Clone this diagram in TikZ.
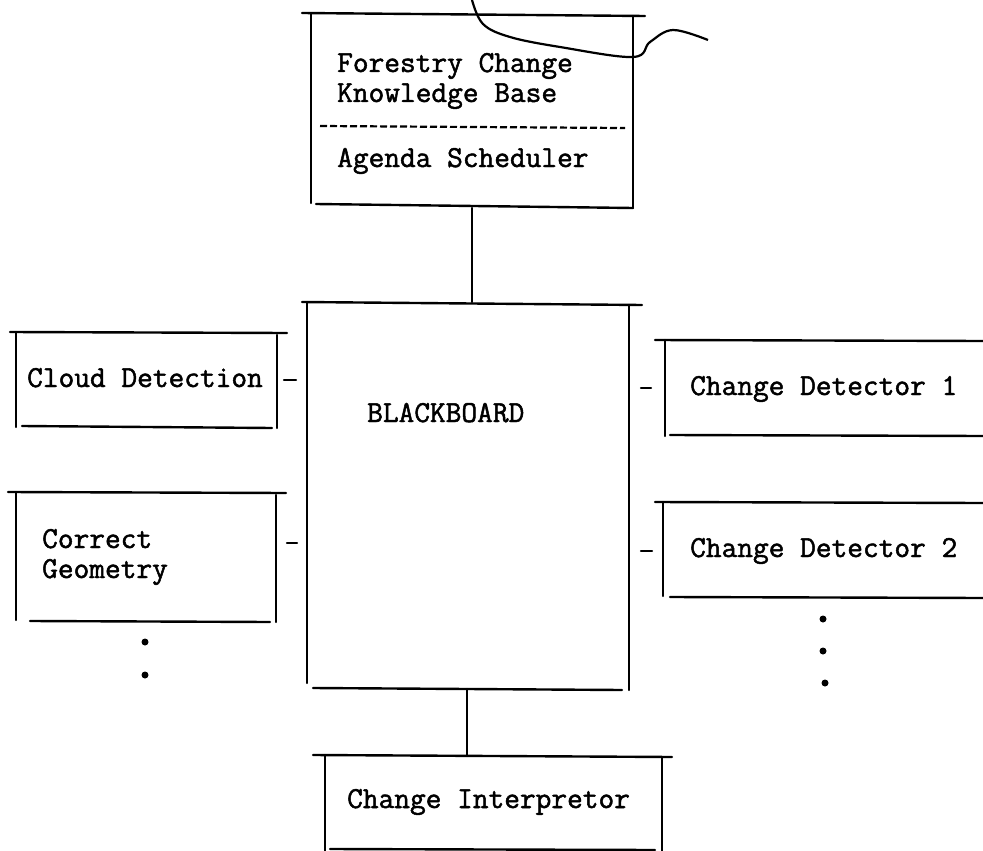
\documentclass[tikz,border=0pt]{standalone}
\usepackage{fontspec}
\newfontfamily\typewriter[FakeBold=1.6]{Latin Modern Mono}
\usetikzlibrary{calc}
\begin{document}
\begin{tikzpicture}[x=1pt,y=-1pt,
  rule/.style={line width=2.4pt,line cap=round},
  sep/.style={line width=2.2pt,dash pattern=on 7pt off 3pt},
  lbl/.style={anchor=base west,inner sep=0pt,font=\fontsize{30.5}{32}\selectfont\typewriter},
  dot/.style={fill,circle,inner sep=0pt,minimum size=7pt}]
\useasboundingbox (0,0) rectangle (983,851);

% ---- knowledge base / scheduler ----
\draw[rule] (302,13) -- (645,16);
\draw[rule] (311,14) -- (311,203);
\draw[rule] (633,16) -- (633,208);
\draw[rule] (316,204) -- (633,208);
\draw[sep] (320,126) -- (625,128);
\node[lbl] (kb1) at (337,72) {Forestry Change};
\node[lbl] (kb2) at (337,102) {Knowledge Base};
\node[lbl] (sched) at (337,167) {Agenda Scheduler};
\coordinate (kbS) at (472,208);
\draw[line width=2.2pt] plot[smooth,tension=0.6] coordinates
  {(472,0) (483,24) (510,37) (560,47) (633,57) (650,42) (673,30) (708,40)};

% ---- blackboard ----
\draw[rule] (302,302) -- (642,305);
\draw[rule] (307,302) -- (307,683);
\draw[rule] (629,305) -- (629,690);
\draw[rule] (313,688) -- (622,690);
\node[lbl] (bb) at (367,422) {BLACKBOARD};
\coordinate (bbN) at (472,302);
\coordinate (bbS) at (467,689);
\draw[rule] (kbS) -- (bbN);

% ---- change interpretor ----
\draw[rule] (313,755) -- (672,757);
\draw[rule] (325,755) -- (325,851);
\draw[rule] (662,757) -- (662,851);
\draw[rule] (330,849) -- (655,850);
\node[lbl] (interp) at (347,808) {Change Interpretor};
\coordinate (ciN) at (467,756);
\draw[rule] (bbS) -- (ciN);

% ---- cloud detection ----
\draw[rule] (10,332) -- (287,333);
\draw[rule] (16,332) -- (16,427);
\draw[rule] (277,335) -- (277,428);
\draw[rule] (22,426) -- (272,428);
\node[lbl] (cloud) at (27,387) {Cloud Detection};
\coordinate (cdE) at (284,380);
\coordinate (cdB) at (296,380);
\draw[rule] (cdE) -- (cdB);

% ---- correct geometry ----
\draw[rule] (8,492) -- (286,493);
\draw[rule] (16,492) -- (16,620);
\draw[rule] (276,495) -- (276,622);
\draw[rule] (30,621) -- (270,622);
\node[lbl] (geo1) at (42,548) {Correct};
\node[lbl] (geo2) at (42,578) {Geometry};
\coordinate (cgE) at (287,543);
\coordinate (cgB) at (297,543);
\draw[rule] (cgE) -- (cgB);
\node[dot] (ld1) at (145,642) {};
\node[dot] (ld2) at (145,675) {};

% ---- change detector 1 ----
\draw[rule] (655,340) -- (983,341);
\draw[rule] (665,340) -- (665,436);
\draw[rule] (670,435) -- (983,436);
\node[lbl] (det1) at (690,395) {Change Detector 1};
\coordinate (d1W) at (641,388);
\coordinate (d1B) at (651,388);
\draw[rule] (d1W) -- (d1B);

% ---- change detector 2 ----
\draw[rule] (655,502) -- (983,503);
\draw[rule] (663,502) -- (663,596);
\draw[rule] (670,597) -- (983,598);
\node[lbl] (det2) at (690,557) {Change Detector 2};
\coordinate (d2W) at (641,551);
\coordinate (d2B) at (652,551);
\draw[rule] (d2W) -- (d2B);
\node[dot] (rd1) at (823,619) {};
\node[dot] (rd2) at (823,651) {};
\node[dot] (rd3) at (825,683) {};
\end{tikzpicture}
\end{document}
